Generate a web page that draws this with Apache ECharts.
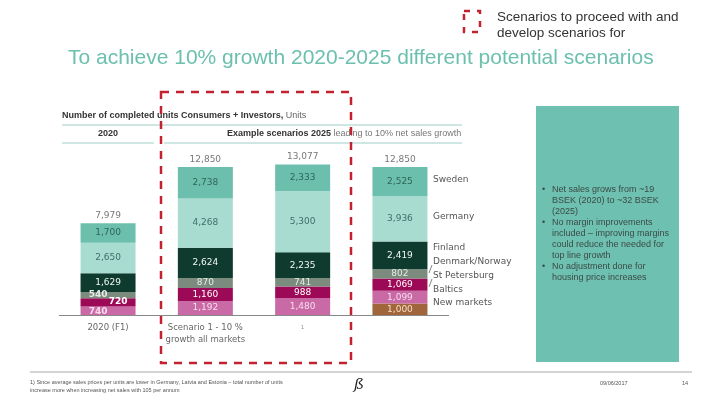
<!DOCTYPE html>
<html><head><meta charset="utf-8">
<script src="https://cdn.jsdelivr.net/npm/echarts@6/dist/echarts.min.js"></script>
<style>html,body{margin:0;padding:0;background:#fff}#c{width:720px;height:405px}</style>
</head><body><div id="c"></div>
<script>
const categories = ['2020 (F1)', 'Scenario 1 - 10 %\ngrowth all markets', '1', ''];
const newMarkets = [0, 0, 0, 1000];
const baltics = [740, 1192, 1480, 1099];
const stPetersburg = [720, 1160, 988, 1069];
const denmarkNorway = [540, 870, 741, 802];
const finland = [1629, 2624, 2235, 2419];
const germany = [2650, 4268, 5300, 3936];
const sweden = [1700, 2738, 2333, 2525];
const totals = [7979, 12850, 13077, 12850];
const seriesNames = ['New markets', 'Baltics', 'St Petersburg', 'Denmark/Norway', 'Finland', 'Germany', 'Sweden'];

const colors = ['#a0653b', '#c96aa7', '#9c0a57', '#7b8b7e', '#0e3b2d', '#a9dcd0', '#6cbfad'];
const labelColors = ['#f6dfc4', '#f7dcee', '#ffffff', '#e6ece8', '#f2f7f5', '#3d6f66', '#2f645a'];
const dataSets = [newMarkets, baltics, stPetersburg, denmarkNorway, finland, germany, sweden];

const fmt = v => v.toLocaleString('en-US');

const chart = echarts.init(document.getElementById('c'));
const series = dataSets.map((d, i) => ({
  name: seriesNames[i],
  type: 'bar',
  stack: 'total',
  barWidth: 55,
  itemStyle: { color: colors[i] },
  label: {
    show: true,
    position: 'inside',
    color: labelColors[i],
    fontFamily: 'DejaVu Sans',
    fontSize: 9,
    formatter: p => p.value ? fmt(p.value) : ''
  },
  data: d.map((v, j) => {
    if (i === 2 && j === 0) return { value: v, label: { offset: [10, -1], fontWeight: 'bold' } };
    if (i === 3 && j === 0) return { value: v, label: { offset: [-10, 0], fontWeight: 'bold' } };
    if (i === 1 && j === 0) return { value: v, label: { offset: [-10, 1], fontWeight: 'bold' } };
    return v;
  })
}));
series.push({
  type: 'scatter',
  symbolSize: 2,
  itemStyle: { color: 'rgba(0,0,0,0)' },
  label: {
    show: true, position: 'top', distance: 2,
    color: '#555', fontFamily: 'DejaVu Sans', fontSize: 9,
    formatter: p => fmt(p.value)
  },
  data: totals
});

const legendLabels = [
  ['Sweden', 181], ['Germany', 218], ['Finland', 249], ['Denmark/Norway', 263],
  ['St Petersburg', 277], ['Baltics', 291], ['New markets', 304]
];
const graphics = [];
legendLabels.forEach(([t, y]) => graphics.push({
  type: 'text', left: 433, top: y - 6,
  style: { text: t, fill: '#555', font: '9px "DejaVu Sans"' }
}));
graphics.push({ type: 'line', shape: { x1: 429, y1: 273, x2: 432, y2: 265 }, style: { stroke: '#666', lineWidth: 0.8 } });
graphics.push({ type: 'line', shape: { x1: 429, y1: 287, x2: 432, y2: 279 }, style: { stroke: '#666', lineWidth: 0.8 } });

// header lines
graphics.push({ type: 'line', shape: { x1: 62, y1: 125, x2: 462, y2: 125 }, style: { stroke: '#9fd0c6', lineWidth: 1.2 } });
graphics.push({ type: 'line', shape: { x1: 62, y1: 143, x2: 154, y2: 143 }, style: { stroke: '#9fd0c6', lineWidth: 1.2 } });
graphics.push({ type: 'line', shape: { x1: 164, y1: 143, x2: 462, y2: 143 }, style: { stroke: '#9fd0c6', lineWidth: 1.2 } });
graphics.push({
  type: 'text', left: 62, top: 111,
  style: {
    text: '{b|Number of completed units Consumers + Investors,}{n| Units}',
    rich: {
      b: { font: 'bold 9px "Liberation Sans"', fill: '#333' },
      n: { font: '9px "Liberation Sans"', fill: '#666' }
    }
  }
});
graphics.push({ type: 'text', left: 98, top: 129, style: { text: '2020', font: 'bold 9px "Liberation Sans"', fill: '#333' } });
graphics.push({
  type: 'text', left: 227, top: 129,
  style: {
    text: '{b|Example scenarios 2025}{n| leading to 10% net sales growth}',
    rich: {
      b: { font: 'bold 9px "Liberation Sans"', fill: '#333' },
      n: { font: '9px "Liberation Sans"', fill: '#777' }
    }
  }
});

// right box
graphics.push({ type: 'rect', shape: { x: 536, y: 106, width: 143, height: 256 }, style: { fill: '#6ec0b0' } });
const boxLines = [
  ['•', 'Net sales grows from ~19'], ['', 'BSEK (2020) to ~32 BSEK'], ['', '(2025)'],
  ['•', 'No margin improvements'], ['', 'included – improving margins'], ['', 'could reduce the needed for'],
  ['', 'top line growth'], ['•', 'No adjustment done for'], ['', 'housing price increases']
];
boxLines.forEach(([b, t], k) => {
  const y = 185 + k * 11;
  if (b) graphics.push({ type: 'text', left: 542, top: y, style: { text: b, font: '9px "Liberation Sans"', fill: '#3b4b47' } });
  graphics.push({ type: 'text', left: 552, top: y, style: { text: t, font: '9px "Liberation Sans"', fill: '#3b4b47' } });
});

// dashed red rectangle
graphics.push({ type: 'rect', shape: { x: 161, y: 92, width: 190, height: 271 }, style: { fill: 'none', stroke: '#c4212f', lineWidth: 2.5, lineDash: [8, 7] } });
// legend icon
graphics.push({ type: 'rect', shape: { x: 464, y: 11, width: 16, height: 21 }, style: { fill: 'none', stroke: '#c4212f', lineWidth: 2.5, lineDash: [6, 7] } });
graphics.push({ type: 'text', left: 497, top: 10, style: { text: 'Scenarios to proceed with and', font: '13.5px "Liberation Sans"', fill: '#333' } });
graphics.push({ type: 'text', left: 497, top: 26, style: { text: 'develop scenarios for', font: '13.5px "Liberation Sans"', fill: '#333' } });

// footer
graphics.push({ type: 'line', shape: { x1: 30, y1: 372, x2: 692, y2: 372 }, style: { stroke: '#aaa', lineWidth: 1 } });
graphics.push({ type: 'text', left: 30, top: 379, style: { text: '1) Since average sales prices per units are lower in Germany, Latvia and Estonia – total number of units', font: '5.5px "Liberation Sans"', fill: '#555' } });
graphics.push({ type: 'text', left: 30, top: 387, style: { text: 'increase more when increasing net sales with 105 per annum', font: '5.5px "Liberation Sans"', fill: '#555' } });
graphics.push({ type: 'text', left: 600, top: 380, style: { text: '09/06/2017', font: '5.5px "Liberation Sans"', fill: '#555' } });
graphics.push({ type: 'text', left: 682, top: 380, style: { text: '14', font: '5.5px "Liberation Sans"', fill: '#555' } });
graphics.push({ type: 'text', left: 354, top: 378, style: { text: 'ß', font: 'italic 15px "DejaVu Serif"', fill: '#222' } });

chart.setOption({
  animation: false,
  title: {
    text: 'To achieve 10% growth 2020-2025 different potential scenarios',
    left: 63, top: 43,
    textStyle: { color: '#6cc0ae', fontFamily: 'Liberation Sans', fontSize: 21, fontWeight: 'normal' }
  },
  grid: { left: 59.4, width: 389.2, top: 153.8, height: 161.2 },
  xAxis: {
    type: 'category',
    data: categories,
    axisLine: { lineStyle: { color: '#888', width: 1 } },
    axisTick: { show: false },
    axisLabel: {
      interval: 0, hideOverlap: false,
      margin: 7, color: '#666', fontFamily: 'DejaVu Sans', fontSize: 8.5, lineHeight: 12,
      formatter: v => v === '1' ? '{s|1}' : v,
      rich: { s: { fontSize: 5, color: '#888' } }
    }
  },
  yAxis: { type: 'value', min: 0, max: 14000, show: false, splitLine: { show: false } },
  series: series,
  graphic: graphics
});
</script></body></html>
